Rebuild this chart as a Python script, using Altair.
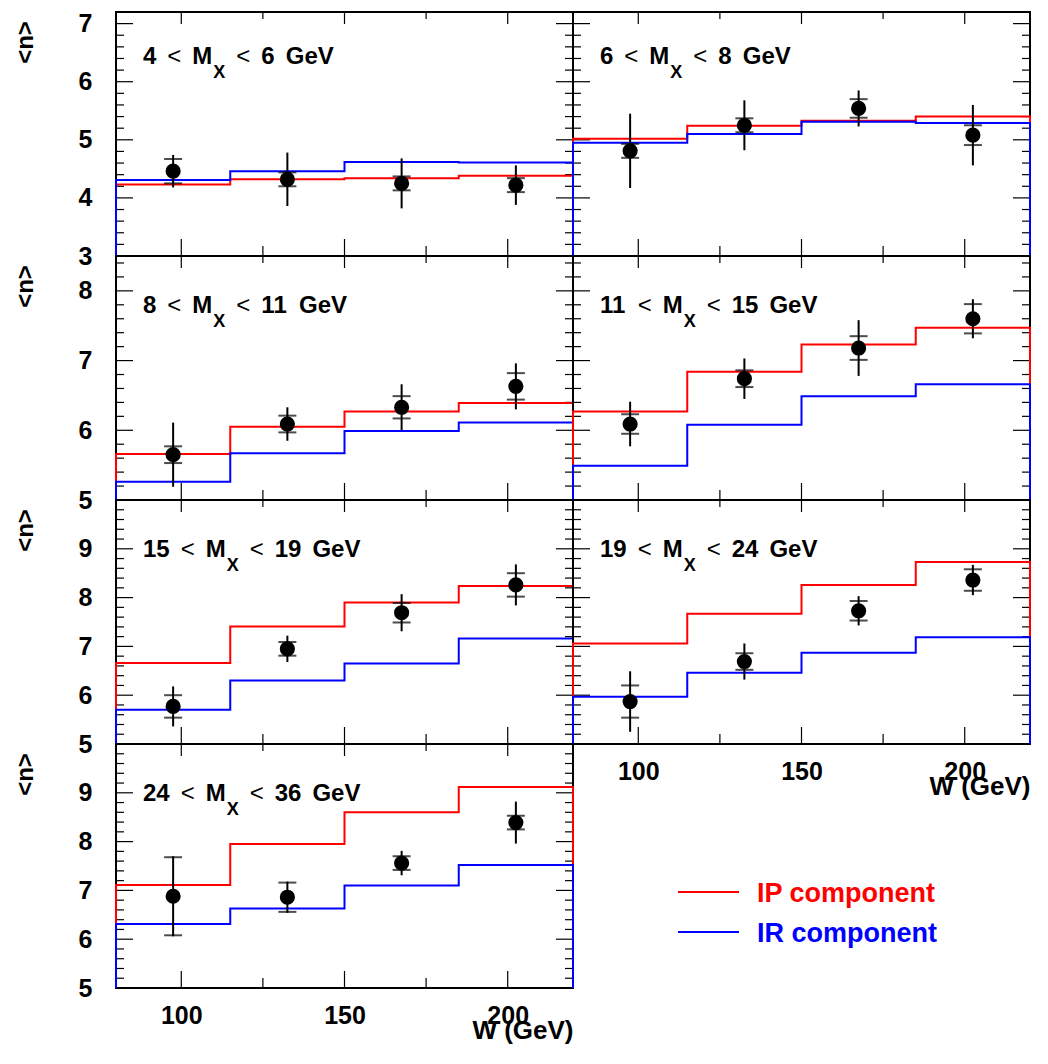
import altair as alt
import numpy as np
import pandas as pd

# ---------------- data ----------------
W_EDGES = [80, 115, 150, 185, 220]
W_CENTERS = [97.5, 132.5, 167.5, 202.5]
MX_LO = [4, 6, 8, 11, 15, 19, 24]
MX_HI = [6, 8, 11, 15, 19, 24, 36]

N_MEAN = [
    [4.46, 4.32, 4.25, 4.22],
    [4.81, 5.25, 5.54, 5.08],
    [5.65, 6.09, 6.33, 6.63],
    [6.09, 6.74, 7.18, 7.60],
    [5.77, 6.95, 7.69, 8.26],
    [5.87, 6.69, 7.73, 8.36],
    [6.88, 6.86, 7.56, 8.39],
]
N_ERR_TOT = [
    [0.28, 0.46, 0.43, 0.34],
    [0.64, 0.43, 0.31, 0.52],
    [0.46, 0.24, 0.33, 0.33],
    [0.32, 0.29, 0.40, 0.28],
    [0.41, 0.27, 0.38, 0.42],
    [0.62, 0.37, 0.30, 0.31],
    [0.82, 0.32, 0.25, 0.43],
]
N_ERR_STAT = [
    [0.21, 0.12, 0.12, 0.12],
    [0.12, 0.12, 0.16, 0.17],
    [0.12, 0.12, 0.16, 0.19],
    [0.14, 0.12, 0.17, 0.21],
    [0.23, 0.14, 0.20, 0.24],
    [0.33, 0.17, 0.20, 0.22],
    [0.80, 0.30, 0.14, 0.14],
]
IP_COMP = [
    [4.23, 4.32, 4.34, 4.38],
    [5.02, 5.24, 5.33, 5.40],
    [5.66, 6.05, 6.27, 6.39],
    [6.27, 6.84, 7.23, 7.47],
    [6.66, 7.41, 7.90, 8.24],
    [7.06, 7.67, 8.26, 8.73],
    [7.11, 7.95, 8.60, 9.12],
]
IR_COMP = [
    [4.31, 4.46, 4.62, 4.61],
    [4.95, 5.10, 5.31, 5.29],
    [5.26, 5.67, 5.99, 6.11],
    [5.49, 6.08, 6.49, 6.66],
    [5.70, 6.30, 6.65, 7.16],
    [5.97, 6.46, 6.87, 7.19],
    [6.31, 6.63, 7.10, 7.52],
]

ROW_YMIN = [3, 5, 5, 5]
ROW_YMAX = [7.2, 8.5, 10, 10]
ROW_YLABELS = [[3, 4, 5, 6, 7], [5, 6, 7, 8], [5, 6, 7, 8, 9], [5, 6, 7, 8, 9]]
X_MAJOR = [100, 150, 200]
X_MINOR = [125, 175]
LEGEND_LABELS = ["IP component", "IR component"]

# ---------------- layout / style ----------------
PANEL_ROW = [0, 0, 1, 1, 2, 2, 3]
PANEL_COL = [0, 1, 0, 1, 0, 1, 0]
PW, PH = 457, 244
FONT = "Liberation Sans"
RED = "#ff0000"
BLUE = "#0000ff"

CW = {str(d): 0.556 for d in range(10)}
CW.update({"<": 0.584, "M": 0.833, "X": 0.667, "G": 0.778, "e": 0.556, "V": 0.667})


def tw(s, fs):
    return sum(CW[ch] for ch in s) * fs


def outline(vals, ymin):
    ws, ns = [W_EDGES[0]], [ymin]
    for k, v in enumerate(vals):
        ws += [W_EDGES[k], W_EDGES[k + 1]]
        ns += [v, v]
    ws.append(W_EDGES[-1])
    ns.append(ymin)
    return pd.DataFrame({"w": ws, "n": ns, "o": list(range(len(ws)))})


def panel(i):
    r, c = PANEL_ROW[i], PANEL_COL[i]
    ymin, ymax = ROW_YMIN[r], ROW_YMAX[r]
    xs = alt.Scale(domain=[80, 220], nice=False, zero=False)
    ys = alt.Scale(domain=[ymin, ymax], nice=False, zero=False)
    if i in (5, 6):
        xaxis = alt.Axis(values=X_MAJOR, ticks=False, domain=False, grid=False,
                         labelFontSize=25, labelFontWeight="bold", labelPadding=15,
                         labelBaseline="top", title="W (GeV)", titleFontSize=26,
                         titleFontWeight="bold", titleAnchor="end", titleAlign="right",
                         titleBaseline="alphabetic", titleX=PW, titleY=50)
    else:
        xaxis = None
    if c == 0:
        yaxis = alt.Axis(values=ROW_YLABELS[r], ticks=False, domain=False, grid=False,
                         labelFontSize=25, labelFontWeight="bold", labelPadding=24,
                         title="<n>", titleAngle=270, titleX=-79, titleY=30,
                         titleAlign="center", titleBaseline="bottom", titleFontSize=24,
                         titleFontWeight="bold")
    else:
        yaxis = None

    def X(f):
        return alt.X(f, type="quantitative", scale=xs, axis=xaxis)

    def Y(f):
        return alt.Y(f, type="quantitative", scale=ys, axis=yaxis)

    layers = []
    # y ticks (inward, both sides)
    allt = np.round(np.arange(ymin, ymax + 1e-9, 0.2), 3)
    ymaj = pd.DataFrame({"t": [t for t in allt if abs(t - round(t)) < 1e-6]})
    ymin_df = pd.DataFrame({"t": [t for t in allt if abs(t - round(t)) >= 1e-6]})
    for df, L in ((ymaj, 17), (ymin_df, 8)):
        base = alt.Chart(df)
        layers.append(base.mark_rule(color="black", strokeWidth=1.2).encode(
            y=Y("t"), x=alt.value(0), x2=alt.value(L)))
        layers.append(base.mark_rule(color="black", strokeWidth=1.2).encode(
            y=Y("t"), x=alt.value(PW - L), x2=alt.value(PW)))
    # x ticks
    for vals, Lb, Lt in ((X_MAJOR, 17, 12), (X_MINOR, 10, 7)):
        base = alt.Chart(pd.DataFrame({"t": vals}))
        layers.append(base.mark_rule(color="black", strokeWidth=1.2).encode(
            x=X("t"), y=alt.value(PH), y2=alt.value(PH - Lb)))
        layers.append(base.mark_rule(color="black", strokeWidth=1.2).encode(
            x=X("t"), y=alt.value(0), y2=alt.value(Lt)))

    # model histograms
    for vals, col in ((IP_COMP[i], RED), (IR_COMP[i], BLUE)):
        layers.append(alt.Chart(outline(vals, ymin)).mark_line(
            color=col, strokeWidth=2).encode(x=X("w"), y=Y("n"), order="o:Q"))

    # data points
    pts = pd.DataFrame({
        "w": W_CENTERS,
        "n": N_MEAN[i],
        "lo": [m - e for m, e in zip(N_MEAN[i], N_ERR_TOT[i])],
        "hi": [m + e for m, e in zip(N_MEAN[i], N_ERR_TOT[i])],
    })
    caps = pd.DataFrame({
        "w": W_CENTERS * 2,
        "c": [m - e for m, e in zip(N_MEAN[i], N_ERR_STAT[i])]
        + [m + e for m, e in zip(N_MEAN[i], N_ERR_STAT[i])],
    })
    layers.append(alt.Chart(pts).mark_rule(color="black", strokeWidth=2).encode(
        x=X("w"), y=Y("lo"), y2="hi"))
    layers.append(alt.Chart(caps).mark_tick(orient="horizontal", size=18, thickness=2,
                                            color="black").encode(x=X("w"), y=Y("c")))
    layers.append(alt.Chart(pts).mark_circle(size=230, color="black", opacity=1).encode(
        x=X("w"), y=Y("n")))

    # panel label  "lo < M_X < hi GeV"
    fs, fsub, gap = 24, 18, 11
    yb = 52 if r == 0 else 57
    cur = 27
    toks = []
    for tok in [str(MX_LO[i]), "<"]:
        toks.append((tok, cur, yb, fs))
        cur += tw(tok, fs) + gap
    toks.append(("M", cur, yb, fs))
    cur += tw("M", fs) + 1
    toks.append(("X", cur, yb + 14, fsub))
    cur += tw("X", fsub) + gap
    for tok in ["<", str(MX_HI[i]), "GeV"]:
        toks.append((tok, cur, yb, fs))
        cur += tw(tok, fs) + gap
    for tok, tx, ty, tfs in toks:
        layers.append(alt.Chart(pd.DataFrame({"s": [tok]})).mark_text(
            align="left", baseline="alphabetic", fontSize=tfs,
            fontWeight="normal" if tok == "<" else "bold", color="black").encode(
            text="s:N", x=alt.value(tx), y=alt.value(ty)))

    return alt.layer(*layers).properties(width=PW, height=PH)


def legend_panel():
    layers = []
    for k, (lab, col) in enumerate(zip(LEGEND_LABELS, [RED, BLUE])):
        yy = 148 + 40 * k
        base = alt.Chart(pd.DataFrame({"label": [lab]}))
        layers.append(base.mark_rule(color=col, strokeWidth=2).encode(
            x=alt.value(105), x2=alt.value(166), y=alt.value(yy)))
        layers.append(base.mark_text(align="left", baseline="middle", fontSize=27,
                                     fontWeight="bold", color=col).encode(
            text="label:N", x=alt.value(184), y=alt.value(yy + 2)))
    return alt.layer(*layers).properties(
        width=PW, height=PH, view=alt.ViewBackground(stroke="transparent"))


cells = [panel(k) for k in range(7)] + [legend_panel()]

chart = (
    alt.concat(*cells, columns=2, spacing=0, bounds="flush")
    .properties(padding={"left": 4, "top": 2, "right": 0, "bottom": 0})
    .configure_view(stroke="black", strokeWidth=2)
    .configure_axis(labelFont=FONT, titleFont=FONT, labelColor="black", titleColor="black")
    .configure_text(font=FONT)
)

chart.save("out.html", embed_options={"renderer": "svg", "actions": False})
